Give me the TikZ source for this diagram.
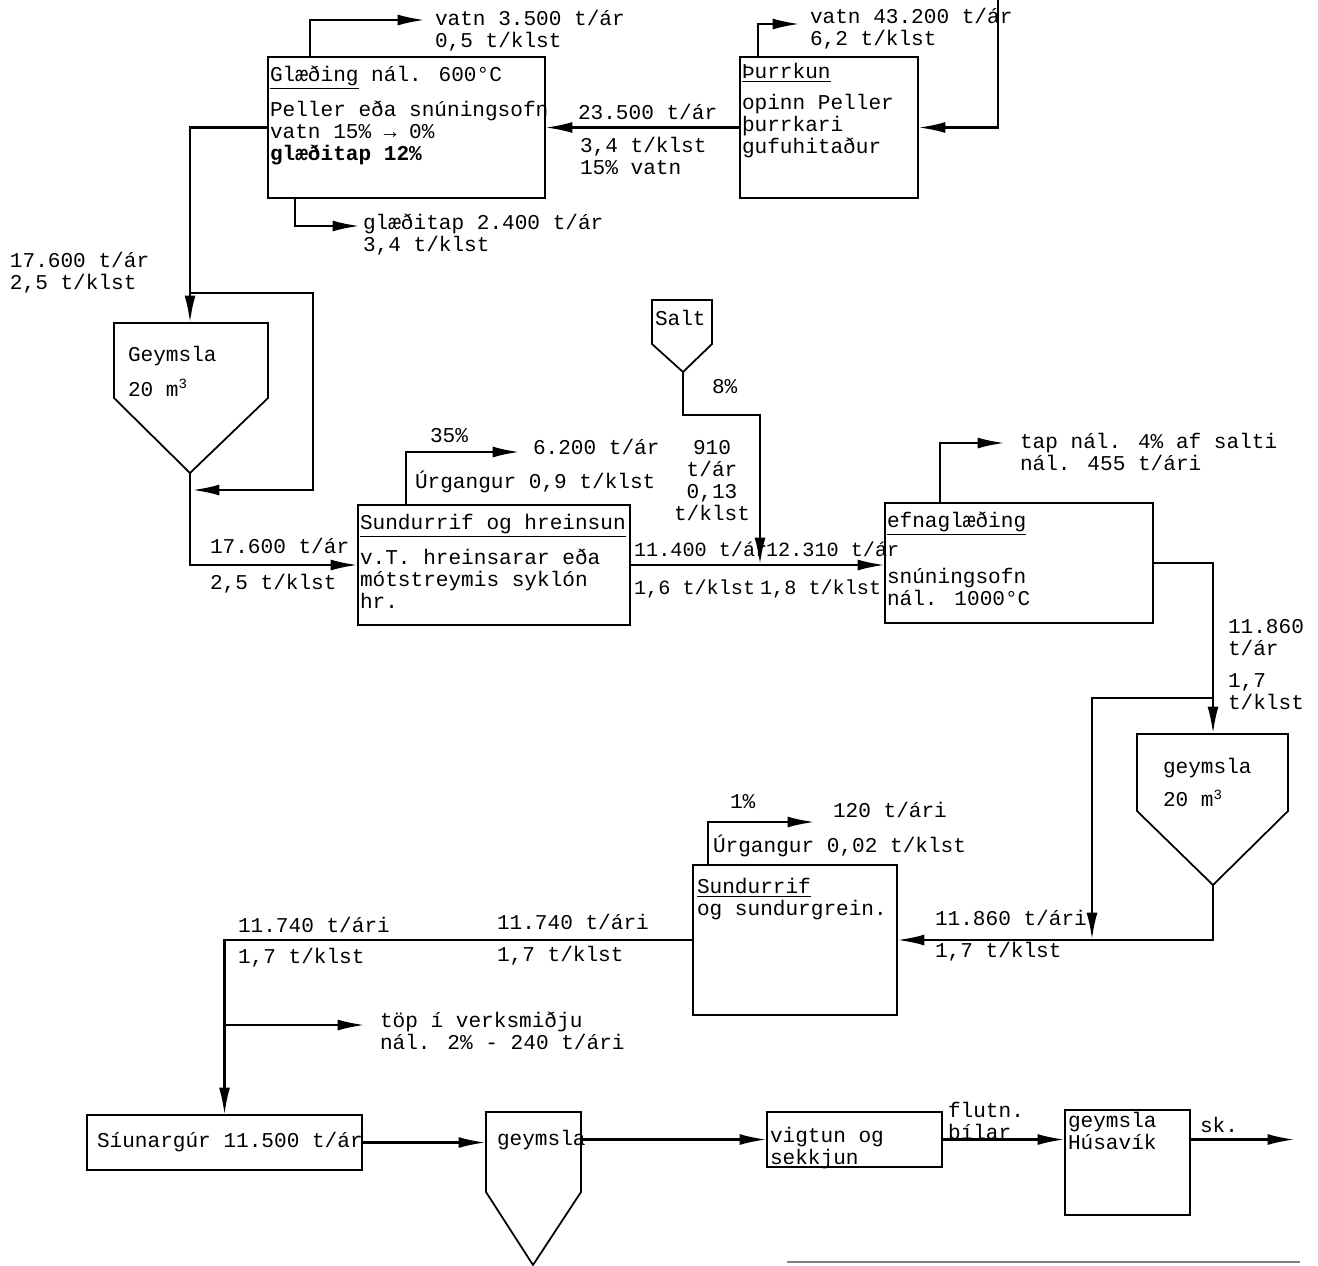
\documentclass[tikz,border=0pt]{standalone}
\usepackage{fontspec}
\setmainfont{Liberation Mono}
\usetikzlibrary{arrows.meta}

\begin{document}
\begin{tikzpicture}[x=0.02cm, y=-0.02cm,
  every node/.style={inner sep=0pt, outer sep=0pt},
  box/.style={draw, line width=1pt},
  txt/.style={anchor=north west, align=left, font=\fontsize{12}{12.5}\selectfont},
  flow/.style={line width=1.5pt, -{Latex[length=5.5mm,width=2.2mm]}}]
\useasboundingbox (0,0) rectangle (1318,1265);

% boxes
\node[box, minimum width=5.54cm, minimum height=2.82cm] (glaed) at (406.5,127.5) {};
\node[box, minimum width=3.56cm, minimum height=2.82cm] (thurr) at (829,127.5) {};
\node[box, minimum width=5.44cm, minimum height=2.40cm] (sund1) at (494,565) {};
\node[box, minimum width=5.36cm, minimum height=2.40cm] (efna) at (1019,563) {};
\node[box, minimum width=4.08cm, minimum height=3.00cm] (sund2) at (795,940) {};
\node[box, minimum width=5.50cm, minimum height=1.10cm] (siun) at (224.5,1142.5) {};
\node[box, minimum width=3.50cm, minimum height=1.10cm] (vigt) at (854.5,1139.5) {};
\node[box, minimum width=2.50cm, minimum height=2.10cm] (husa) at (1127.5,1162.5) {};

% hoppers
\draw[box] (114,323) -- (268,323) -- (268,398) -- (190,473) -- (114,398) -- cycle;
\draw[box] (652,300) -- (712,300) -- (712,344) -- (683,372) -- (652,344) -- cycle;
\draw[box] (1137,734) -- (1288,734) -- (1288,811) -- (1213,885) -- (1137,811) -- cycle;
\draw[box] (486,1112) -- (581,1112) -- (581,1192) -- (533,1265) -- (486,1192) -- cycle;
\coordinate (g1top) at (190,323);
\coordinate (g1bot) at (190,473);
\coordinate (saltbot) at (683,372);
\coordinate (g2top) at (1213,734);
\coordinate (g2bot) at (1213,885);
\coordinate (g3w) at (486,1142.5);
\coordinate (g3e) at (581,1139.5);

% corners and free ends
\coordinate (v1) at (310,20);   \coordinate (v1e) at (425,20);
\coordinate (v2) at (295,226);  \coordinate (v2e) at (360,226);
\coordinate (v6) at (758,24);   \coordinate (v6e) at (800,24);
\coordinate (feed) at (998,0);
\coordinate (l1) at (190,293);  \coordinate (l2) at (313,293);
\coordinate (l3) at (313,490);  \coordinate (l4) at (192,490);
\coordinate (v3) at (406,452);  \coordinate (v3e) at (520,452);
\coordinate (s1) at (683,415);  \coordinate (s2) at (760,415);
\coordinate (saltin) at (760,565);
\coordinate (v4) at (940,443);  \coordinate (v4e) at (1005,443);
\coordinate (b1) at (1213,698); \coordinate (b2) at (1092,940);
\coordinate (v5) at (708,822);  \coordinate (v5e) at (815,822);
\coordinate (br) at (224.5,1025); \coordinate (bre) at (365,1025);
\coordinate (out) at (1295,1139.5);

% connectors
\draw[flow] (glaed.north -| v1) -- (v1) -- (v1e);
\draw[flow] (glaed.south -| v2) -- (v2) -- (v2e);
\draw[flow] (thurr.north -| v6) -- (v6) -- (v6e);
\draw[flow] (feed) |- (thurr.east);
\draw[flow] (thurr.west) -- (glaed.east);
\draw[flow] (glaed.west) -| (g1top);
\draw[flow] (l1) -- (l2) -- (l3) -- (l4);
\draw[flow] (g1bot) |- (sund1.west);
\draw[flow] (sund1.north -| v3) -- (v3) -- (v3e);
\draw[flow] (sund1.east) -- (sund1.east -| efna.west);
\draw[flow] (saltbot) -- (s1) -- (s2) -- (saltin);
\draw[flow] (efna.north -| v4) -- (v4) -- (v4e);
\draw[flow] (efna.east) -| (g2top);
\draw[flow] (b1) -| (b2);
\draw[flow] (g2bot) |- (sund2.east);
\draw[flow] (sund2.north -| v5) -- (v5) -- (v5e);
\draw[flow] (sund2.west) -| (siun.north);
\draw[flow] (br) -- (bre);
\draw[flow] (siun.east) -- (g3w);
\draw[flow] (g3e) -- (vigt.west);
\draw[flow] (vigt.east) -- (vigt.east -| husa.west);
\draw[flow] (vigt.east -| husa.east) -- (out);
\draw[line width=0.6pt, gray] (787,1262) -- (1300,1262);

% texts in boxes
\node[txt] (tglaed) at (270,66) {\strut\underline{Glæðing} nál. 600°C\\[5.5pt]Peller eða snúningsofn\\vatn 15\% → 0\%\\\textbf{glæðitap 12\%}};
\node[txt] (tthurr) at (742,63) {\strut\underline{Þurrkun}\\[5pt]opinn Peller\\þurrkari\\gufuhitaður};
\node[txt] (tgeym1) at (128,346) {\strut Geymsla\\[5.5pt]20 m\textsuperscript{3}};
\node[txt] (tsund1) at (360,514) {\strut\underline{Sundurrif og hreinsun}\\[6pt]v.T. hreinsarar eða\\mótstreymis syklón\\hr.};
\node[txt] (tsalt) at (655,310) {\strut Salt};
\node[txt] (tefna) at (887,512) {\strut\underline{efnaglæðing}\\[18pt]snúningsofn\\nál. 1000°C};
\node[txt] (tgeym2) at (1163,758) {\strut geymsla\\[4.5pt]20 m\textsuperscript{3}};
\node[txt] (tsund2) at (697,878) {\strut\underline{Sundurrif}\\og sundurgrein.};
\node[txt] (tsiun) at (97,1132) {\strut Síunargúr 11.500 t/ár};
\node[txt] (tgeym3) at (497,1130) {\strut geymsla};
\node[txt] (tvigt) at (770,1127) {\strut vigtun og\\sekkjun};
\node[txt] (thusa) at (1068,1112) {\strut geymsla\\Húsavík};

% flow labels
\node[txt] (lv1) at (435,10) {\strut vatn 3.500 t/ár\\0,5 t/klst};
\node[txt] (lv2) at (363,214) {\strut glæðitap 2.400 t/ár\\3,4 t/klst};
\node[txt] (lv6) at (810,8) {\strut vatn 43.200 t/ár\\6,2 t/klst};
\node[txt] (lth1) at (578,104) {\strut 23.500 t/ár};
\node[txt] (lth2) at (580,137) {\strut 3,4 t/klst\\15\% vatn};
\node[txt] (lg1) at (10,252) {\strut 17.600 t/ár\\2,5 t/klst};
\node[txt] (lg2) at (210,538) {\strut 17.600 t/ár};
\node[txt] (lg3) at (210,574) {\strut 2,5 t/klst};
\node[txt] (lv3a) at (430,427) {\strut 35\%};
\node[txt] (lv3b) at (533,439) {\strut 6.200 t/ár};
\node[txt] (lv3c) at (415,471) {\strut Úrgangur 0,9 t/klst};
\node[txt, font=\fontsize{11.5}{12.5}\selectfont] (ls1) at (634,541) {\strut 11.400 t/ár};
\node[txt, font=\fontsize{11.5}{12.5}\selectfont] (ls2) at (766,541) {\strut 12.310 t/ár};
\node[txt, font=\fontsize{11.5}{12.5}\selectfont] (ls3) at (634,579) {\strut 1,6 t/klst};
\node[txt, font=\fontsize{11.5}{12.5}\selectfont] (ls4) at (760,579) {\strut 1,8 t/klst};
\node[txt] (lsa) at (712,378) {\strut 8\%};
\node[txt, anchor=north, align=center] (lsb) at (712,439) {\strut 910\\t/ár\\0,13\\t/klst};
\node[txt] (lv4) at (1020,433) {\strut tap nál. 4\% af salti\\nál. 455 t/ári};
\node[txt] (le1) at (1228,618) {\strut 11.860\\t/ár\\[6pt]1,7\\t/klst};
\node[txt] (le2) at (935,910) {\strut 11.860 t/ári};
\node[txt] (le3) at (935,942) {\strut 1,7 t/klst};
\node[txt] (lv5a) at (730,793) {\strut 1\%};
\node[txt] (lv5b) at (833,802) {\strut 120 t/ári};
\node[txt] (lv5c) at (713,835) {\strut Úrgangur 0,02 t/klst};
\node[txt] (lo1) at (238,917) {\strut 11.740 t/ári};
\node[txt] (lo2) at (238,948) {\strut 1,7 t/klst};
\node[txt] (lo3) at (497,914) {\strut 11.740 t/ári};
\node[txt] (lo4) at (497,946) {\strut 1,7 t/klst};
\node[txt] (lbr) at (380,1012) {\strut töp í verksmiðju\\nál. 2\% - 240 t/ári};
\node[txt] (lfl) at (948,1102) {\strut flutn.\\bílar};
\node[txt] (lsk) at (1200,1117) {\strut sk.};
\end{tikzpicture}
\end{document}
